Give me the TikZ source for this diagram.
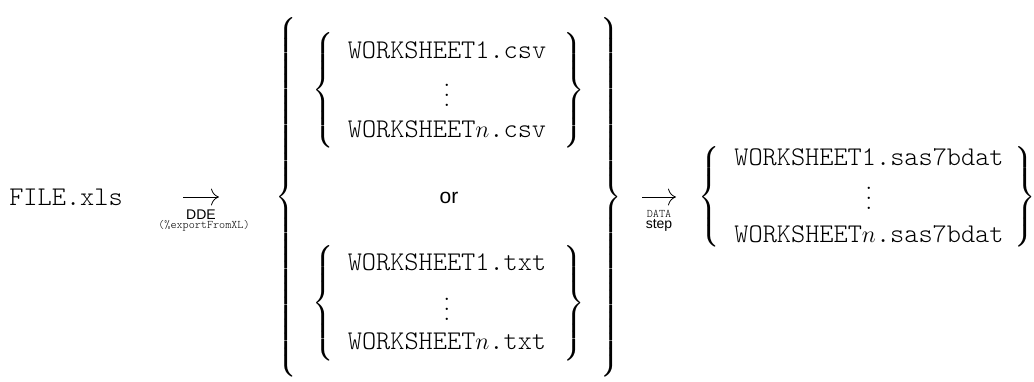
\documentclass[tikz,border=0pt]{standalone}
\usepackage{amsmath}
\usepackage{exscale}
\usepackage{fontspec}
\setsansfont{Liberation Sans}
\setmonofont{Latin Modern Mono Light}
\usetikzlibrary{arrows.meta}

% braces grow to the full height asked for
\delimitershortfall=0pt
\delimiterfactor=1000
\newcommand{\lbr}[1]{$\left\{\vcenter{\hbox{\rule{0pt}{#1}}}\right.$}
\newcommand{\rbr}[1]{$\left.\vcenter{\hbox{\rule{0pt}{#1}}}\right\}$}
\newcommand{\dotcol}{\vbox{\baselineskip5pt\lineskiplimit0pt\hbox{$.$}\hbox{$.$}\hbox{$.$}}}
\newcommand{\nidx}{{\fontsize{12}{14}\selectfont$n$}}

\tikzset{
    fname/.style={font=\fontsize{13.5}{16}\selectfont\ttfamily, inner sep=0pt, anchor=base},
    orword/.style={font=\fontsize{10.5}{12}\selectfont\sffamily, inner sep=0pt, anchor=base},
    tool/.style={font=\fontsize{7}{8}\selectfont\sffamily, inner sep=0pt, anchor=base},
    toolcode/.style={font=\fontsize{5.8}{7}\selectfont\ttfamily, inner sep=0pt, anchor=base},
    bracenode/.style={font=\fontsize{11.8}{14}\selectfont, inner sep=0pt},
    dotsnode/.style={font=\fontsize{12}{14}\selectfont, inner sep=0pt},
    convert/.style={-{To[length=4pt]}, line width=0.4pt}
}

\begin{document}
\begin{tikzpicture}[x=0.5pt, y=-0.5pt]
    \useasboundingbox (0,0) rectangle (1034,381);

    % source workbook
    \node[fname] (file) at (66,205) {FILE.xls};

    % DDE export
    \coordinate (ddeS) at (183,197);
    \coordinate (ddeE) at (219,197);
    \draw[convert] (ddeS) -- (ddeE);
    \node[tool] (dde) at (201,219.5) {DDE};
    \node[toolcode] (ddecode) at (204,228.5) {(\%exportFromXL)};

    % exported worksheets: csv or txt
    \node[bracenode, anchor=west] (outerL) at (275,197) {\lbr{176pt}};
    \node[bracenode, anchor=east] (outerR) at (622,197) {\rbr{176pt}};

    \node[bracenode, anchor=west] (csvL) at (312,90) {\lbr{56pt}};
    \node[bracenode, anchor=east] (csvR) at (585,90) {\rbr{56pt}};
    \node[fname] (csvA) at (447,58) {WORKSHEET1.csv};
    \node[dotsnode] (csvdots) at (447,95) {\dotcol};
    \node[fname] (csvN) at (447,137) {WORKSHEET\nidx.csv};

    \node[orword] (or) at (449,203) {or};

    \node[bracenode, anchor=west] (txtL) at (312,303) {\lbr{56pt}};
    \node[bracenode, anchor=east] (txtR) at (585,303) {\rbr{56pt}};
    \node[fname] (txtA) at (447,270) {WORKSHEET1.txt};
    \node[dotsnode] (txtdots) at (447,309) {\dotcol};
    \node[fname] (txtN) at (447,349) {WORKSHEET\nidx.txt};

    % DATA step import
    \coordinate (dataS) at (642,197);
    \coordinate (dataE) at (676,197);
    \draw[convert] (dataS) -- (dataE);
    \node[toolcode] (datacode) at (659,217.5) {DATA};
    \node[tool] (datastep) at (659,228) {step};

    % SAS data sets
    \node[bracenode, anchor=west] (sasL) at (698,197) {\lbr{48pt}};
    \node[bracenode, anchor=east] (sasR) at (1036,197) {\rbr{48pt}};
    \node[fname] (sasA) at (869,165) {WORKSHEET1.sas7bdat};
    \node[dotsnode] (sasdots) at (869,198) {\dotcol};
    \node[fname] (sasN) at (869,242) {WORKSHEET\nidx.sas7bdat};
\end{tikzpicture}
\end{document}
